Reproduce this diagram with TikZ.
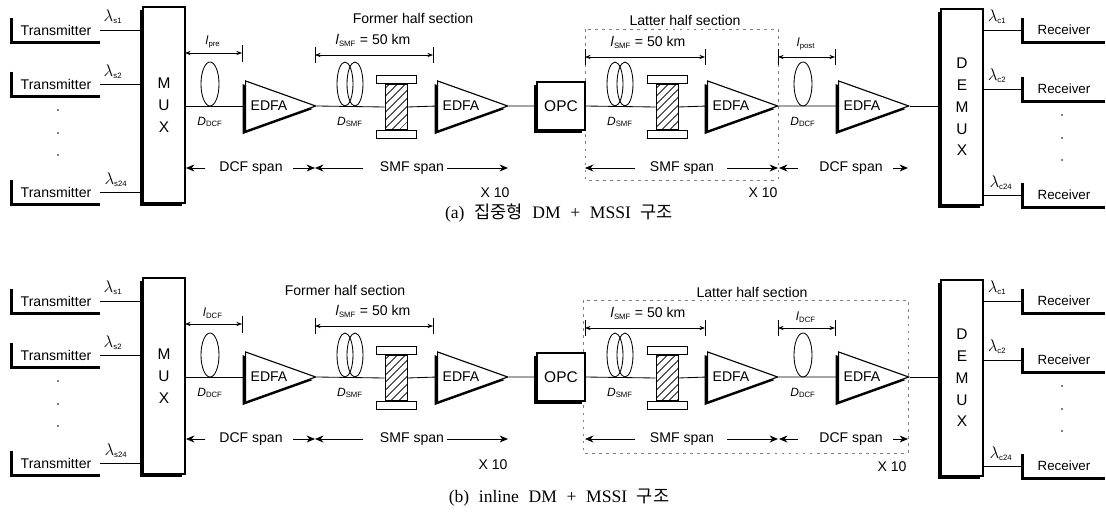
\documentclass[tikz,border=0pt]{standalone}
\usepackage{fontspec}
\setmainfont{Liberation Sans}
\newfontfamily\capfont{Liberation Serif}
\newfontfamily\krfont{Noto Sans CJK KR}
\usetikzlibrary{positioning}
\usetikzlibrary{shapes.geometric}
\usetikzlibrary{shadows}
\usetikzlibrary{patterns.meta}
\usetikzlibrary{arrows.meta}

\newcommand{\lam}[1]{{\fontsize{13}{13}\selectfont$\lambda$}\textsubscript{\fontsize{5.5}{6}\selectfont #1}}
\newcommand{\len}[1]{\textit{l}\textsubscript{\fontsize{5.5}{6}\selectfont #1}}
\newcommand{\disp}[1]{\textit{D}\textsubscript{\fontsize{5.5}{6}\selectfont #1}}
\newcommand{\gap}{\hspace{0.55em}}

% one WDM link with MSSI, shared by both panels
\newcommand{\panel}{%
\node[txbox] (tx1) at (56,30) {Transmitter};
\node[txbox] (tx2) at (56,84) {Transmitter};
\node[txbox] (tx3) at (56,192) {Transmitter};
\foreach \n in {tx1,tx2,tx3} {\draw[bar] (\n.north west) -- (\n.south west) -- (\n.south east);}
\foreach \y in {110,133,155} {\fill (58,\y) circle (0.7pt);}

\node[muxbox] (mux) at (164,105) {M\\U\\X};
\foreach \n in {tx1,tx2,tx3} {\draw (\n.east) -- (\n.east -| mux.west);}
\node[lab] at (113,17) {\lam{s1}};
\node[lab] at (113,72) {\lam{s2}};
\node[lab] at (116,180) {\lam{s24}};

% fibres and amplifiers
\node[edfa] (amp1) at (269,106) {EDFA};
\node[spool] (sp1) at (396,107) {};
\node[plate, above=0pt of sp1] {};
\node[plate, below=0pt of sp1] {};
\node[edfa] (amp2) at (461,106) {EDFA};
\node[opcbox] (opc) at (561,106) {OPC};
\node[spool] (sp2) at (667,107) {};
\node[plate, above=0pt of sp2] {};
\node[plate, below=0pt of sp2] {};
\node[edfa] (amp3) at (731,106) {EDFA};
\node[edfa] (amp4) at (862,106) {EDFA};
\node[muxbox] (demux) at (962,107) {D\\E\\M\\U\\X};

\draw (mux.east |- amp1.west) -- (amp1.west);
\draw (amp1.east) -- (sp1.west);
\draw (sp1.east) -- (amp2.west);
\draw (amp2.east) -- (opc.west);
\draw (opc.east) -- (sp2.west);
\draw (sp2.east) -- (amp3.west);
\draw (amp3.east) -- (amp4.west);
\draw (amp4.east) -- (amp4.east -| demux.west);

\draw (210,84) ellipse [x radius=9, y radius=22];
\draw (345,84) ellipse [x radius=8, y radius=22] (355,84) ellipse [x radius=8, y radius=22];
\draw (615,84) ellipse [x radius=8, y radius=22] (625,84) ellipse [x radius=8, y radius=22];
\draw (803,84) ellipse [x radius=9, y radius=22];
\node[small] at (210,122) {\disp{DCF}};
\node[small] at (350,122) {\disp{SMF}};
\node[small] at (620,122) {\disp{SMF}};
\node[small] at (803,122) {\disp{DCF}};

% lengths
\draw[dim] (185,53) -- (242,53);
\draw (242,45) -- (242,62);
\draw[dim] (315,55) -- (433,55);
\draw (315,47) -- (315,63);
\draw (433,47) -- (433,63);
\node[lab] at (373,40) {\len{SMF} = 50 km};
\draw[dim] (585,57) -- (705,57);
\draw (585,49) -- (585,65);
\draw (705,49) -- (705,65);
\node[lab] at (648,42) {\len{SMF} = 50 km};
\draw[dim] (778,57) -- (835,57);
\draw (778,49) -- (778,65);
\draw (835,49) -- (835,65);

% spans
\draw[span] (205,168) -- (186,168);
\node[lab] at (251,168) {DCF span};
\draw[span] (293,168) -- (315,168);
\draw[span] (363,168) -- (315,168);
\node[lab] at (412,168) {SMF span};
\draw[span] (447,168) -- (508,168);
\draw[span] (635,168) -- (585,168);
\node[lab] at (682,168) {SMF span};
\draw[span] (727,168) -- (778,168);
\draw[span] (798,168) -- (779,168);
\node[lab] at (851,168) {DCF span};
\draw[span] (893,168) -- (908,168);

% receivers
\node[rxbox] (rx1) at (1064,30) {Receiver};
\node[rxbox] (rx2) at (1064,89) {Receiver};
\node[rxbox] (rx3) at (1064,195) {Receiver};
\foreach \n in {rx1,rx2,rx3} {\draw[bar] (\n.north west) -- (\n.south west) -- (\n.south east);
  \draw (\n.west -| demux.east) -- (\n.west);}
\foreach \y in {115,138,160} {\fill (1062,\y) circle (0.7pt);}
\node[lab] at (997,17) {\lam{c1}};
\node[lab] at (997,76) {\lam{c2}};
\node[lab] at (1001,183) {\lam{c24}};
}

\begin{document}
\begin{tikzpicture}[x=0.025cm,y=-0.025cm, line width=0.6pt]

% used shapes
\tikzstyle{txbox} = [rectangle, minimum width=2.2cm, minimum height=0.6cm, inner sep=0pt, font=\fontsize{10}{12}\selectfont]
\tikzstyle{rxbox} = [rectangle, minimum width=2.05cm, minimum height=0.6cm, inner sep=0pt, font=\fontsize{9.5}{11}\selectfont]
\tikzstyle{bar} = [line width=1.6pt]
\tikzstyle{muxbox} = [rectangle, draw, line width=0.8pt, fill=white, minimum width=1.05cm, minimum height=4.9cm, align=center, font=\fontsize{11}{15.5}\selectfont, drop shadow={shadow xshift=-2.2pt, shadow yshift=-2.2pt, fill=black, opacity=1}]
\tikzstyle{opcbox} = [muxbox, minimum width=1.2cm, minimum height=1.2cm, font=\fontsize{11}{13}\selectfont]
\tikzstyle{edfa} = [isosceles triangle, isosceles triangle stretches, draw, line width=0.8pt, fill=white, minimum width=1.25cm, minimum height=1.75cm, inner sep=0pt, font=\fontsize{10}{12}\selectfont, drop shadow={shadow xshift=-2.2pt, shadow yshift=-2.2pt, fill=black, opacity=1}]
\tikzstyle{spool} = [rectangle, draw, minimum width=0.55cm, minimum height=1.125cm, inner sep=0pt, pattern={Lines[angle=45, distance=4pt, line width=0.6pt]}]
\tikzstyle{plate} = [rectangle, draw, fill=white, minimum width=1cm, minimum height=0.2cm, inner sep=0pt]
\tikzstyle{lab} = [font=\fontsize{10}{12}\selectfont, inner sep=1pt]
\tikzstyle{small} = [font=\fontsize{8.5}{9}\selectfont, inner sep=1pt]
\tikzstyle{dim} = [{Stealth[length=4pt, width=3pt]}-{Stealth[length=4pt, width=3pt]}, line width=0.5pt]
\tikzstyle{span} = [-{Stealth[length=6pt, width=5pt]}, line width=0.6pt]
\tikzstyle{half} = [gray, dash pattern=on 2pt off 3pt, line width=0.5pt]
\tikzstyle{captext} = [font=\capfont\fontsize{12.5}{14}\selectfont]

\useasboundingbox (0,0) rectangle (1106,513);

% (a) lumped DM
\draw[half] (585,29) rectangle (778,180);
\panel
\node[lab] at (413,18) {Former half section};
\node[lab] at (685,20) {Latter half section};
\node[small] at (213,42) {\len{pre}};
\node[small] at (806,44) {\len{post}};
\node[lab] at (495,193) {X 10};
\node[lab] at (763,193) {X 10};

% (b) inline DM
\begin{scope}[shift={(0,271)}]
\draw[half] (583,29) rectangle (908,182);
\panel
\node[lab] at (345,19) {Former half section};
\node[lab] at (752,21) {Latter half section};
\node[small] at (213,42) {\len{DCF}};
\node[small] at (806,46) {\len{DCF}};
\node[lab] at (493,194) {X 10};
\node[lab] at (892,196) {X 10};
\end{scope}

\node[captext] (capa) at (559,213) {(a)\gap{\krfont 집중형}\gap DM\gap +\gap MSSI\gap{\krfont 구조}};
\node[captext] (capb) at (559,498) {(b)\gap inline\gap DM\gap +\gap MSSI\gap{\krfont 구조}};

\end{tikzpicture}
\end{document}
